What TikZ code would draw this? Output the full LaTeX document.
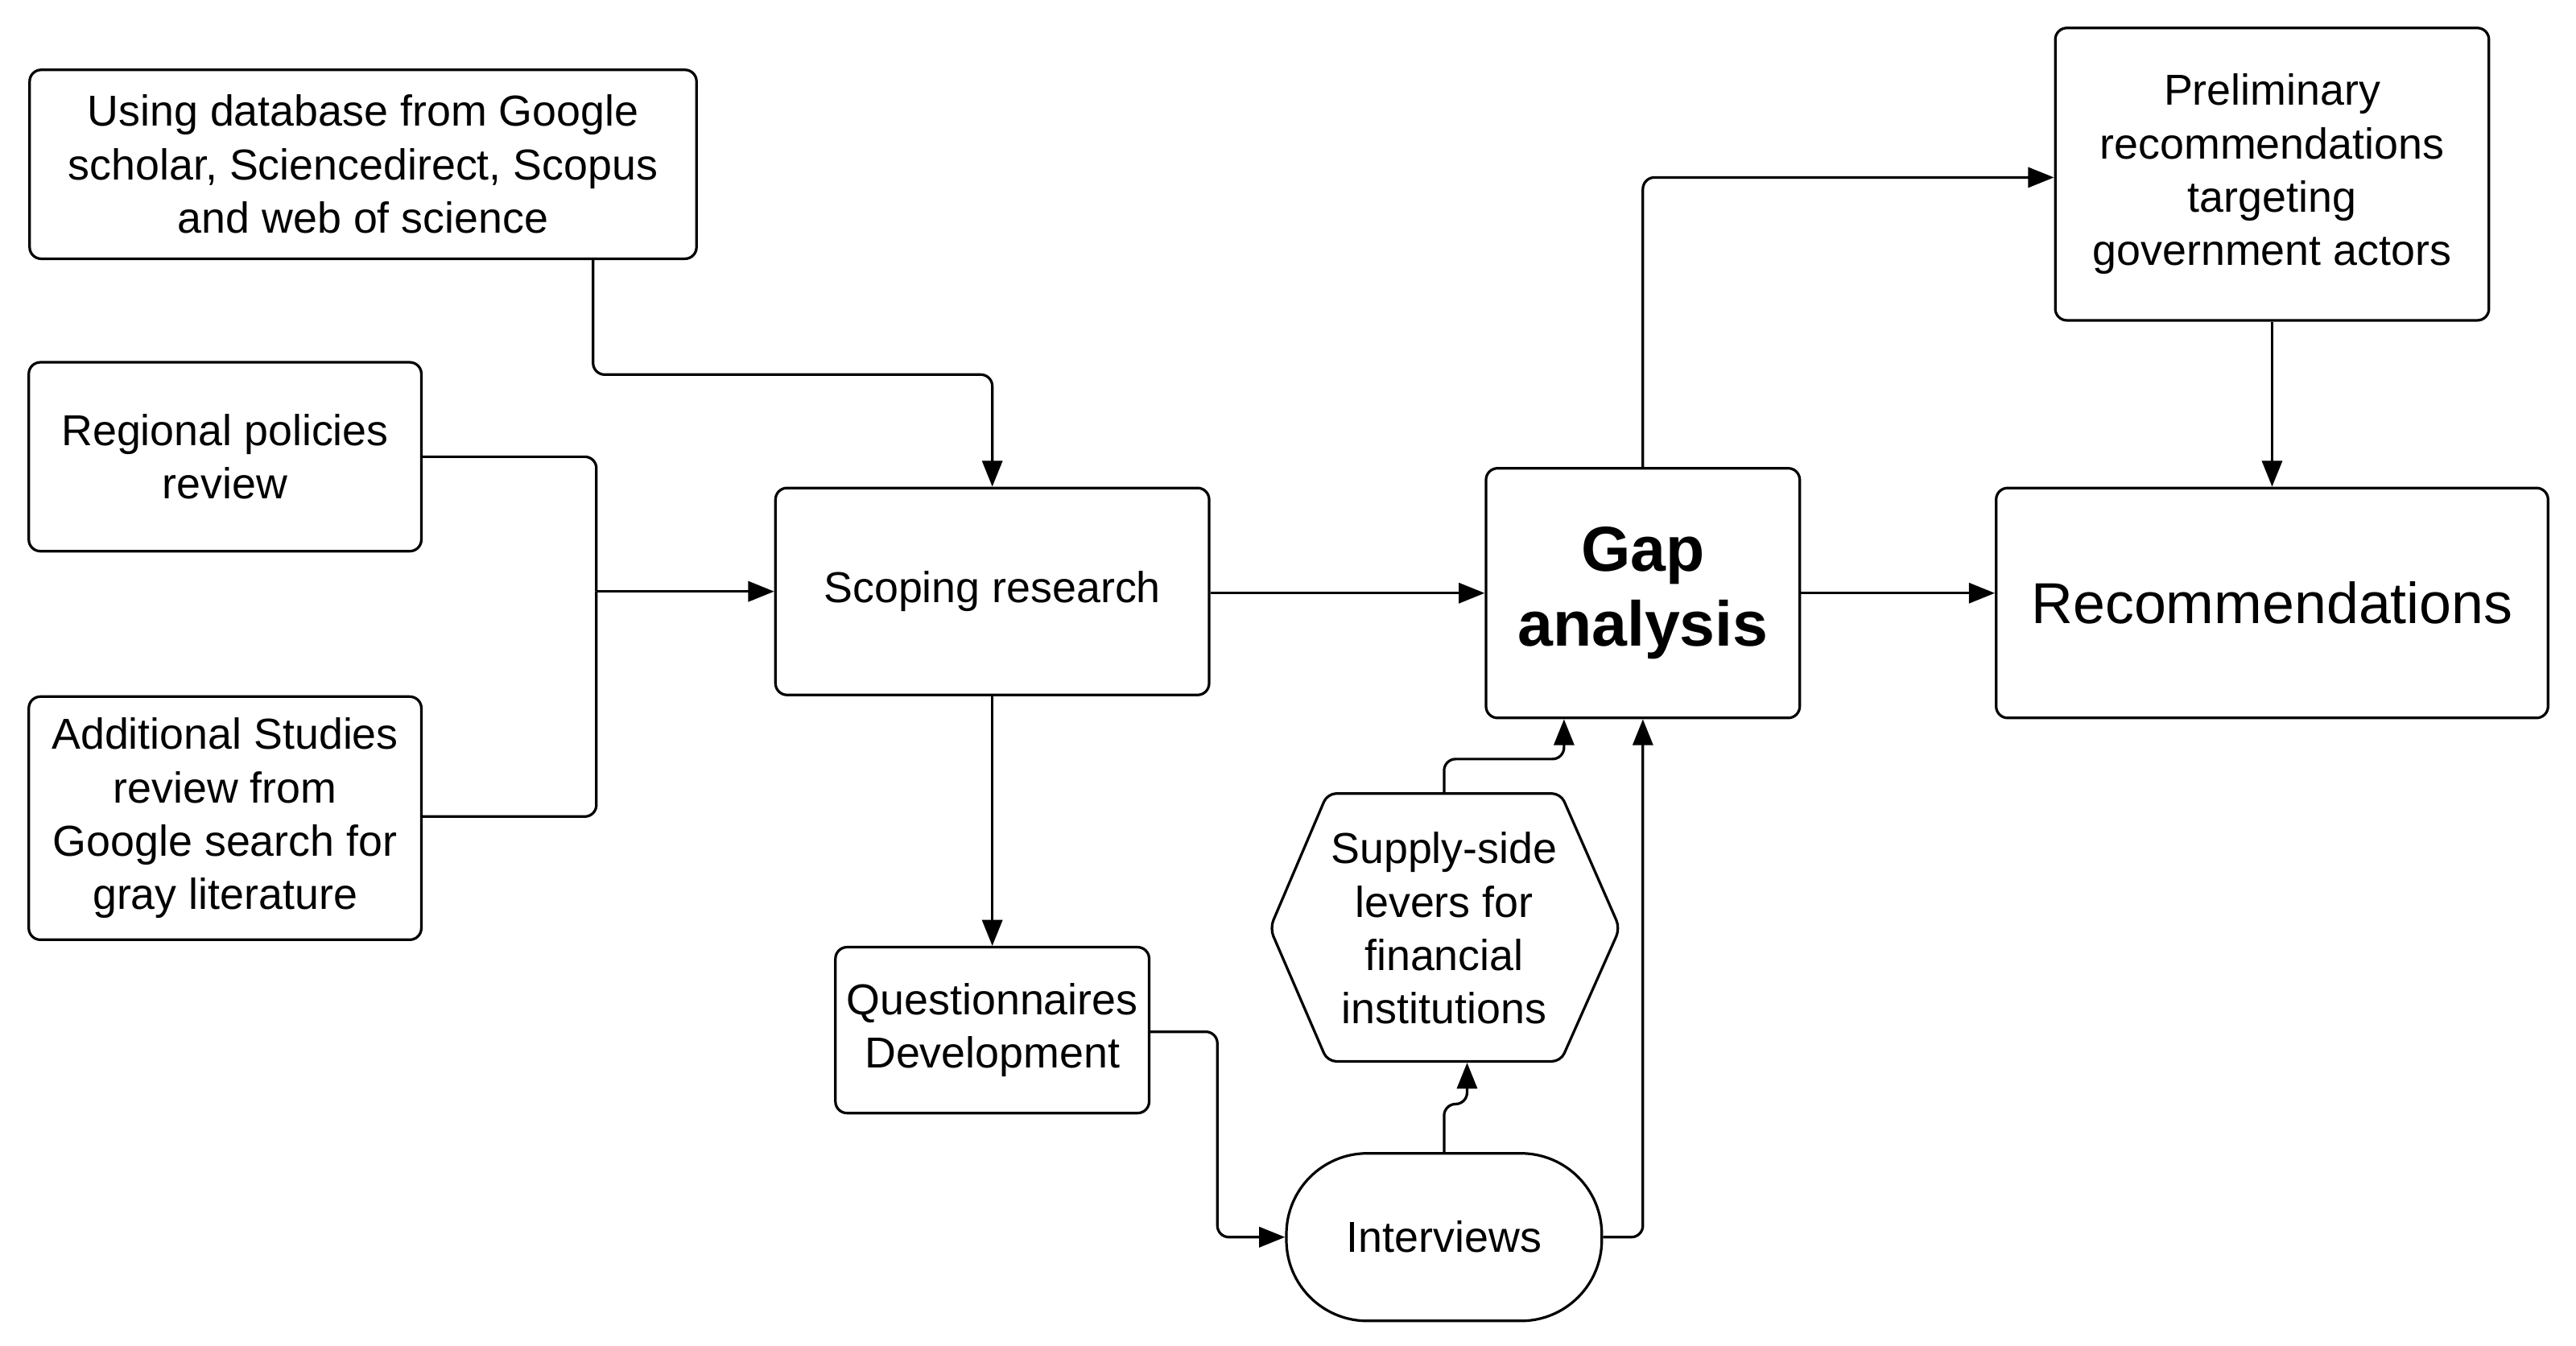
\documentclass[tikz,border=0pt]{standalone}
\usepackage{fontspec}
\setmainfont{Liberation Sans}
\usetikzlibrary{arrows.meta}
\begin{document}
\begin{tikzpicture}[x=0.02cm,y=-0.02cm,
 box/.style={draw,line width=0.9pt,rounded corners=4pt,align=center,font=\fontsize{15}{18.5}\selectfont,inner sep=0pt},
 con/.style={line width=0.9pt,rounded corners=4pt,-{Triangle[length=9pt,width=7pt]}},
 ln/.style={line width=0.9pt,rounded corners=4pt}]
\useasboundingbox (0,0) rectangle (1568,819);
\node[box,minimum width=8.12cm,minimum height=2.3cm] (A) at (221,100) {Using database from Google\\scholar, Sciencedirect, Scopus\\and web of science};
\node[box,minimum width=4.78cm,minimum height=2.3cm] (B) at (137,278) {Regional policies\\review};
\node[box,minimum width=4.78cm,minimum height=2.96cm] (C) at (137,498) {Additional Studies\\review from\\Google search for\\gray literature};
\node[box,minimum width=5.28cm,minimum height=2.52cm] (S) at (604,360) {Scoping research};
\node[box,minimum width=3.82cm,minimum height=2.02cm] (Q) at (604,627) {Questionnaires\\Development};
\node[box,rounded corners=28pt,minimum width=3.84cm,minimum height=2.04cm] (I) at (879,753) {Interviews};
\draw[line width=0.9pt,rounded corners=3pt] (773,565)--(808,483)--(950,483)--(986,565)--(950,646)--(808,646)--cycle;
\node[align=center,font=\fontsize{15}{18.5}\selectfont,inner sep=0pt,minimum width=4.26cm,minimum height=3.26cm] (H) at (879,565) {Supply-side\\levers for\\financial\\institutions};
\node[box,font=\fontsize{22}{26}\selectfont\bfseries,minimum width=3.82cm,minimum height=3.04cm] (G) at (1000,361) {Gap\\analysis};
\node[box,minimum width=5.28cm,minimum height=3.56cm] (P) at (1383,106) {Preliminary\\recommendations\\targeting\\government actors};
\node[box,font=\fontsize{20}{24}\selectfont,minimum width=6.72cm,minimum height=2.8cm] (R) at (1383,367) {Recommendations};
\coordinate (J) at (363,360);
\draw[con] (A.south -| 361,0) -- (361,228) -- (604,228) -- (S.north);
\draw[ln] (B.east) -- (363,278) -- (J);
\draw[ln] (C.east |- 0,497) -- (363,497) -- (J);
\draw[con] (J) -- (S.west |- J);
\draw[con] (S.east |- 0,361) -- (G.west |- 0,361);
\draw[con] (S.south) -- (Q.north);
\draw[con] (Q.east |- 0,628) -- (741,628) -- (741,753) -- (I.west);
\draw[con] (I.north) -- (879,672) -- (893,672) -- (H.south -| 893,0);
\draw[con] (H.north) -- (879,462) -- (952,462) -- (G.south -| 952,0);
\draw[con] (I.east) -- (1000,753) -- (G.south);
\draw[con] (G.north) -- (1000,108) -- (P.west |- 0,108);
\draw[con] (P.south) -- (R.north);
\draw[con] (G.east |- 0,361) -- (R.west |- 0,361);
\end{tikzpicture}
\end{document}
